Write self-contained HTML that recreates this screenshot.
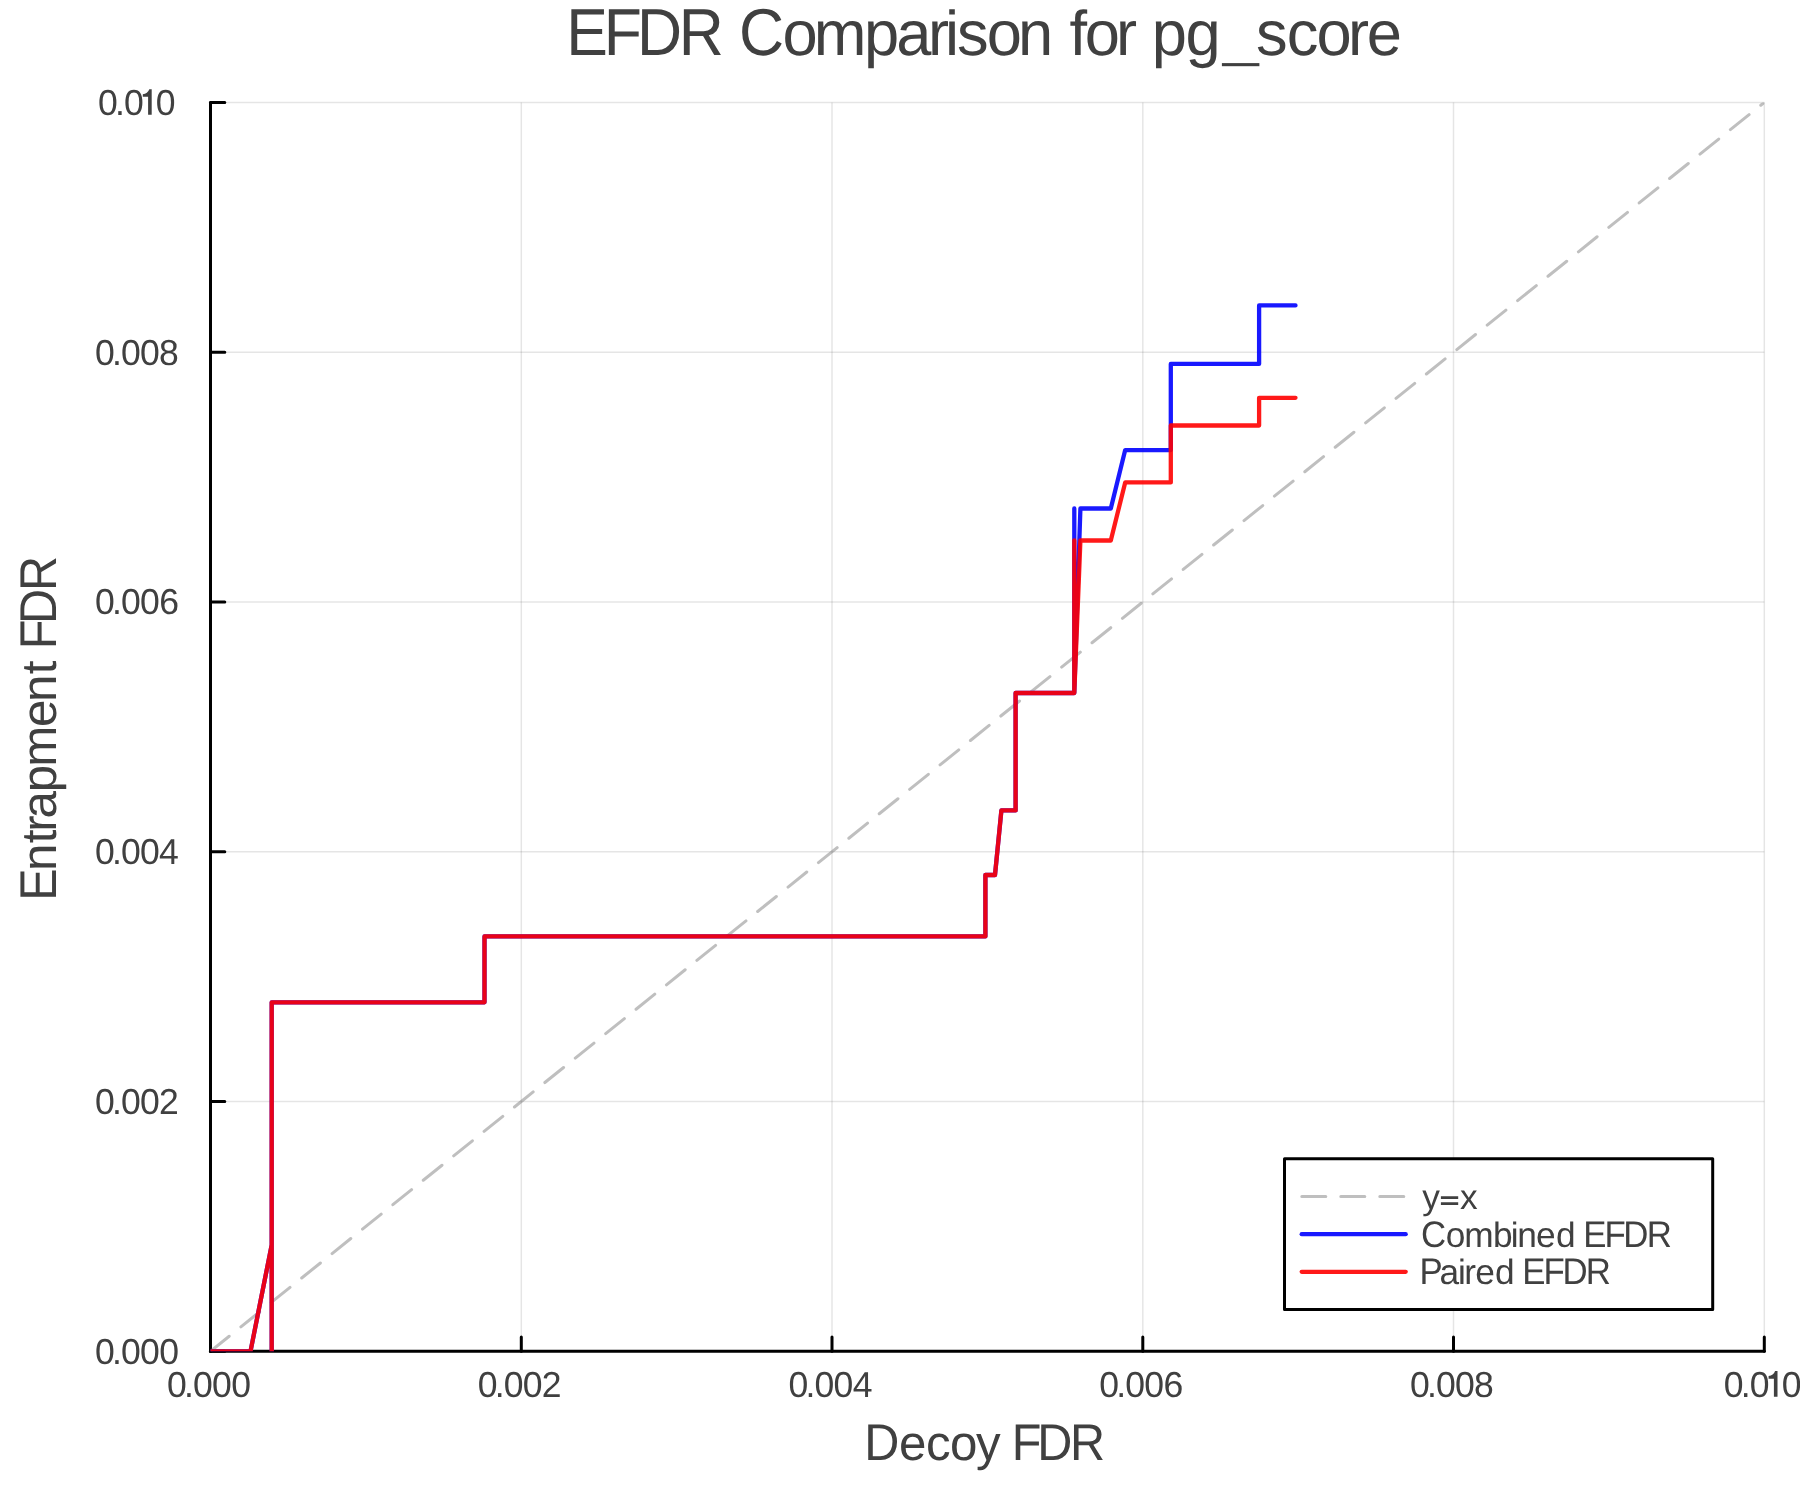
<!DOCTYPE html>
<html>
<head>
<meta charset="utf-8">
<title>EFDR Comparison for pg_score</title>
<style>
html,body{margin:0;padding:0;background:#ffffff;width:1800px;height:1500px;overflow:hidden}
svg{display:block;position:absolute;left:0;top:0;will-change:transform}
text{font-family:"Liberation Sans",sans-serif;fill:#404040;text-rendering:geometricPrecision;font-kerning:none}
.tk{font-size:36px}
.gd{font-size:49.5px}
.tt{font-size:63px}
.lg{font-size:36px}
</style>
</head>
<body>
<svg width="1800" height="1500" viewBox="0 0 1800 1500">
<defs>
<clipPath id="pa"><rect x="210.5" y="102.4" width="1553.8" height="1248.9"/></clipPath>
</defs>
<rect x="0" y="0" width="1800" height="1500" fill="#ffffff"/>
<!-- grid -->
<g stroke="#000000" stroke-opacity="0.1" stroke-width="1.5" fill="none">
<path d="M521.3 102.4V1351.3M832 102.4V1351.3M1142.8 102.4V1351.3M1453.5 102.4V1351.3M1764.3 102.4V1351.3"/>
<path d="M210.5 1101.5H1764.3M210.5 851.7H1764.3M210.5 602H1764.3M210.5 352.2H1764.3M210.5 102.4H1764.3"/>
</g>
<!-- axes -->
<g stroke="#000000" stroke-width="3" fill="none" stroke-linecap="round" stroke-linejoin="round">
<path d="M210.5 1351.3H1764.3"/>
<path d="M210.5 1351.3V102.4"/>
<path d="M210.5 1351.3V1337M521.3 1351.3V1337M832 1351.3V1337M1142.8 1351.3V1337M1453.5 1351.3V1337M1764.3 1351.3V1337"/>
<path d="M210.5 1351.3H224.8M210.5 1101.5H224.8M210.5 851.7H224.8M210.5 602H224.8M210.5 352.2H224.8M210.5 102.4H224.8"/>
</g>
<!-- series -->
<g clip-path="url(#pa)" fill="none" stroke-linecap="round" stroke-linejoin="round">
<path d="M210.5 1351.3L1764.3 102.4" stroke="#808080" stroke-opacity="0.5" stroke-width="3" stroke-dasharray="24 15"/>
<path id="blue" stroke="#0000ff" stroke-opacity="0.9" stroke-width="4.3" d="M210.5 1351.3H250.5L271.7 1245V1351.3V1002.3H484.5V936.4H985.4V875H995L1001.4 810.4H1015.6V693H1074.3V508.5V693L1080.4 508.5H1110.8L1125.2 450.1H1170.8V363.9H1259.1V305.4H1295.5"/>
<path id="red" stroke="#ff0000" stroke-opacity="0.9" stroke-width="4.3" d="M210.5 1351.3H250.5L271.7 1245V1351.3V1002.3H484.5V936.4H985.4V875H995L1001.4 810.4H1015.6V693H1074.3V540.5V693L1080.4 540.5H1110.8L1125.2 482.4H1170.8V425.5H1259.1V397.8H1295.5"/>
</g>
<!-- TEXT -->
<!-- title -->
<text transform="scale(0.94 1)" font-size="66.4" x="602.46 642.42 677.71 722.07" y="54.7">EFDR</text>
<text transform="scale(0.94 1)" font-size="66.4" x="786.29" y="54.7">C</text>
<text font-size="63.28" x="782.40 813.68 863.89 896.21 928.09 944.99 956.89 986.70 1018.01" y="54.7">omparison</text>
<text font-size="63.28" x="1069.62 1084.70 1115.94" y="54.7">for</text>
<text font-size="63.28" x="1151.69 1185.46" y="54.7">pg</text>
<rect x="1221.9" y="63.1" width="37.5" height="3.1" fill="#404040"/>
<text font-size="63.28" x="1255.94 1286.82 1316.55 1347.99 1366.77" y="54.7">score</text>
<!-- x label -->
<text transform="scale(0.94 1)" font-size="51.7" x="919.38" y="1459.8">D</text>
<text font-size="49.27" x="898.95 926.09 949.95 975.97" y="1459.8">ecoy</text>
<text transform="scale(0.94 1)" font-size="51.7" x="1076.21 1103.53 1138.18" y="1459.8">FDR</text>
<!-- y label -->
<g transform="translate(55.8 896.8) rotate(-90)">
<text transform="scale(0.94 1)" font-size="51.7" x="-4.32" y="0">E</text>
<text font-size="49.27" x="25.86 53.46 64.97 78.40 104.65 129.97 169.70 194.86 222.61" y="0">ntrapment</text>
<text transform="scale(0.94 1)" font-size="51.7" x="263.34 290.29 325.30" y="0">FDR</text>
</g>
<!-- y ticks -->
<text transform="scale(0.985 1)" font-size="36.1" x="96.36 113.77 122.75 142.19 161.74" y="1363.7">0.000</text>
<text transform="scale(0.985 1)" font-size="36.1" x="96.36 113.77 122.75 142.19 161.48" y="1113.92">0.002</text>
<text transform="scale(0.985 1)" font-size="36.1" x="96.36 113.77 122.75 142.19 161.55" y="864.14">0.004</text>
<text transform="scale(0.985 1)" font-size="36.1" x="96.36 113.77 122.75 142.19 161.77" y="614.36">0.006</text>
<text transform="scale(0.985 1)" font-size="36.1" x="96.36 113.77 122.75 142.19 161.43" y="364.58">0.008</text>
<text transform="scale(0.985 1)" font-size="36.1" x="99.40 116.81 125.90 158.24" y="114.8">0.00</text>
<path fill="#404040" transform="translate(0.00 0.00)" d="M151.7 114.8H148.1V96.8H142.8V94.2Q147.6 93.9 149.3 89.2H151.7Z"/>
<!-- x ticks -->
<text transform="scale(0.985 1)" font-size="36.1" x="169.45 186.86 195.85 215.29 234.83" y="1396.7">0.000</text>
<text transform="scale(0.985 1)" font-size="36.1" x="484.95 502.36 511.34 530.78 550.07" y="1396.7">0.002</text>
<text transform="scale(0.985 1)" font-size="36.1" x="800.44 817.85 826.83 846.28 865.63" y="1396.7">0.004</text>
<text transform="scale(0.985 1)" font-size="36.1" x="1115.93 1133.34 1142.33 1161.77 1181.34" y="1396.7">0.006</text>
<text transform="scale(0.985 1)" font-size="36.1" x="1431.42 1448.83 1457.82 1477.26 1496.50" y="1396.7">0.008</text>
<text transform="scale(0.985 1)" font-size="36.1" x="1749.96 1767.37 1776.46 1808.79" y="1396.7">0.00</text>
<path fill="#404040" transform="translate(1625.80 1281.90)" d="M151.7 114.8H148.1V96.8H142.8V94.2Q147.6 93.9 149.3 89.2H151.7Z"/>
<!-- legend -->
<rect x="1284.5" y="1158.7" width="428.2" height="150.8" fill="#ffffff" stroke="#000000" stroke-width="3" stroke-linejoin="round"/>
<g fill="none" stroke-linecap="round">
<path d="M1301.8 1196.4H1405" stroke="#808080" stroke-opacity="0.5" stroke-width="3" stroke-dasharray="24 15"/>
<path d="M1301.7 1234.2H1405.7" stroke="#0000ff" stroke-opacity="0.9" stroke-width="4.3"/>
<path d="M1301.7 1271.8H1405.7" stroke="#ff0000" stroke-opacity="0.9" stroke-width="4.3"/>
</g>
<text font-size="35.26" x="1422.18 1460.08" y="1208.9">yx</text>
<path fill="#404040" d="M1440.9 1196.3h17.3v2.6h-17.3zM1440.9 1202.3h17.3v2.7h-17.3z"/>
<text transform="scale(0.94 1)" font-size="37" x="1511.83" y="1246.5">C</text>
<text font-size="35.26" x="1445.75 1464.16 1492.95 1510.74 1517.17 1535.88 1556.09" y="1246.5">ombined</text>
<text transform="scale(0.94 1)" font-size="37" x="1684.23 1706.97 1726.91 1751.88" y="1246.5">EFDR</text>
<text transform="scale(0.94 1)" font-size="37" x="1510.04" y="1283.8">P</text>
<text font-size="35.26" x="1439.55 1457.94 1464.25 1475.23 1495.04" y="1283.8">aired</text>
<text transform="scale(0.94 1)" font-size="37" x="1619.44 1641.97 1662.12 1687.10" y="1283.8">EFDR</text>
</svg>
</body>
</html>
